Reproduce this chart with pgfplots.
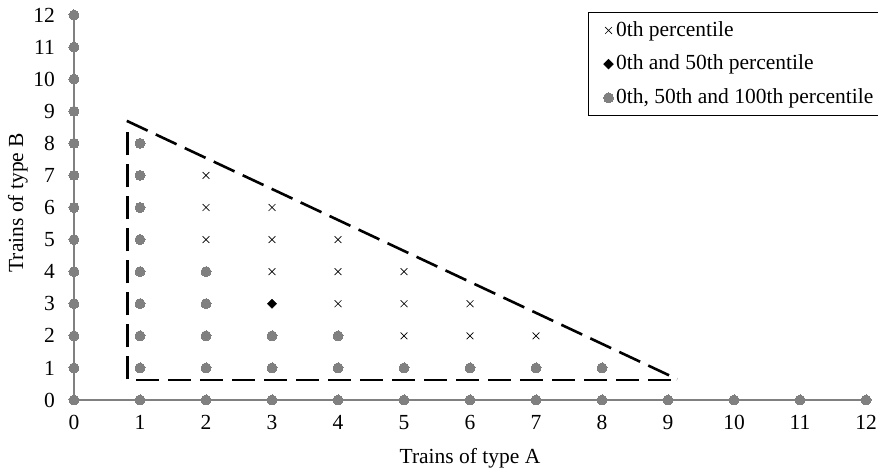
\documentclass[border=0pt]{standalone}
\usepackage{fontspec}
\setmainfont{Liberation Serif}
\usepackage{pgfplots}
\pgfplotsset{compat=1.18}
\definecolor{dotgray}{RGB}{128,128,128}
\begin{document}
\fontsize{21.5}{25}\selectfont
\begin{tikzpicture}
\begin{axis}[
  at={(0,0)}, anchor=south west,
  scale only axis, width=792pt, height=385pt,
  xmin=0, xmax=12, ymin=0, ymax=12,
  clip=false,
  axis lines=none,
  legend style={at={(axis cs:7.79,12.094)}, anchor=north west, draw=black, line width=0.8pt,
     font=\fontsize{21.5}{25}\selectfont, row sep=11.5pt, inner xsep=15pt, inner ysep=7pt,
     legend cell align=left, nodes={inner xsep=2.5pt}},
  legend image code/.code={\draw[#1] plot coordinates {(0.12cm,0cm)};},
]
% axis lines with dots
\addplot[dotgray, line width=1.5pt, mark=*, mark size=5pt, mark options={draw=dotgray, fill=dotgray, line width=0pt}, forget plot]
  coordinates {(12,0) (11,0) (10,0) (9,0) (8,0) (7,0) (6,0) (5,0) (4,0) (3,0) (2,0) (1,0) (0,0) (0,1) (0,2) (0,3) (0,4) (0,5) (0,6) (0,7) (0,8) (0,9) (0,10) (0,11) (0,12)};
% tick labels
\pgfplotsinvokeforeach{0,...,12}{
  \node[anchor=north, inner sep=0pt] at (axis cs:#1,0) [yshift=-15pt] {#1};
  \node[anchor=east, inner sep=0pt] at (axis cs:0,#1) [xshift=-19pt] {#1};
}
\node[anchor=north] at (axis cs:6,0) [yshift=-41pt] {Trains of type A};
\node[rotate=90] at ([xshift=-56pt]axis cs:0,6.15) {Trains of type B};
% dashed triangle
\addplot[black, line width=2.6pt, dash pattern=on 23pt off 9pt, forget plot]
  coordinates {(9.04,0.62) (0.81,0.62) (0.81,8.4)};
\addplot[black, line width=2.6pt, dash pattern=on 23pt off 9pt, forget plot]
  coordinates {(0.8,8.7) (9.14,0.65)};
% crosses
\addplot[only marks, mark=x, mark size=4.8pt, black, mark options={line width=0.7pt}]
  coordinates {(2,5) (2,6) (2,7) (3,4) (3,5) (3,6) (4,3) (4,4) (4,5) (5,2) (5,3) (5,4) (6,2) (6,3) (7,2)};
\addlegendentry{0th percentile}
\addplot[only marks, mark=square*, mark size=3.3pt, black, mark options={rotate=45}]
  coordinates {(3,3)};
\addlegendentry{0th and 50th percentile}
\addplot[only marks, mark=*, mark size=5pt, mark options={draw=dotgray, fill=dotgray, line width=0pt}]
  coordinates {(1,1) (1,2) (1,3) (1,4) (1,5) (1,6) (1,7) (1,8) (2,1) (2,2) (2,3) (2,4) (3,1) (3,2) (4,1) (4,2) (5,1) (6,1) (7,1) (8,1)};
\addlegendentry{0th, 50th and 100th percentile}
\end{axis}
\pgfresetboundingbox
\useasboundingbox (-74pt,-70pt) rectangle (804pt,400pt);
\end{tikzpicture}
\end{document}
